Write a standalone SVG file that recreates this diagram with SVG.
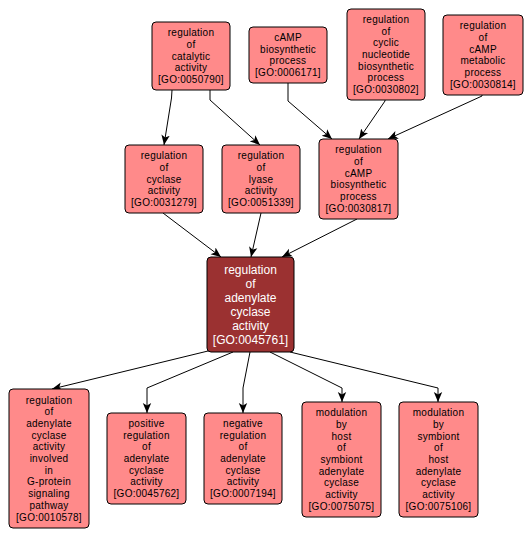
<svg xmlns="http://www.w3.org/2000/svg" width="532" height="539" viewBox="0 0 532 539">
<defs>
<marker id="arr" markerUnits="userSpaceOnUse" markerWidth="10" markerHeight="10" viewBox="0 0 10 10" refX="10" refY="5" orient="auto">
<path d="M0,0.8 L10,5 L0,9.2 L2.5,5 Z" fill="#000"/>
</marker>
<style>
.n rect{fill:#ff8a8a;stroke:#000;stroke-width:1}
.n text{font-family:"Liberation Sans",Arial,sans-serif;font-size:10px;letter-spacing:0.25px;fill:#000;text-anchor:middle}
#H rect{fill:#9b3131}
#H text{fill:#fff;font-size:12px;letter-spacing:0}
#edges path{fill:none;stroke:#000;stroke-width:1;marker-end:url(#arr)}
</style>
</defs>
<rect width="532" height="539" fill="#fff"/>
<g id="edges">
<path d="M172,90 L171.5,98 L164,145"/>
<path d="M210,90 L210,100 L260,145"/>
<path d="M288,83 L288,101 L332,139"/>
<path d="M385,100 L385,101 L359,139"/>
<path d="M482,95 L482,96 L388,139"/>
<path d="M163,213 L221,257"/>
<path d="M261,213 L251,257"/>
<path d="M357,219 L282,257"/>
<path d="M208,351 L52,389"/>
<path d="M233,352 L147,388 L147,413"/>
<path d="M250,352 L243,388 L243,413"/>
<path d="M270,352 L342,388 L342,402"/>
<path d="M290,352 L438,388 L438,402"/>
</g>
<g id="A" class="n"><rect x="152" y="22" width="78" height="68" rx="4"/>
<text y="36.1"><tspan x="191">regulation</tspan><tspan x="191" dy="11.7">of</tspan><tspan x="191" dy="11.7">catalytic</tspan><tspan x="191" dy="11.7">activity</tspan><tspan x="191" dy="11.7">[GO:0050790]</tspan></text></g>
<g id="B" class="n"><rect x="249" y="27" width="78" height="56" rx="4"/>
<text y="40.9"><tspan x="288">cAMP</tspan><tspan x="288" dy="11.7">biosynthetic</tspan><tspan x="288" dy="11.7">process</tspan><tspan x="288" dy="11.7">[GO:0006171]</tspan></text></g>
<g id="C" class="n"><rect x="347" y="9" width="78" height="91" rx="4"/>
<text y="22.9"><tspan x="386">regulation</tspan><tspan x="386" dy="11.7">of</tspan><tspan x="386" dy="11.7">cyclic</tspan><tspan x="386" dy="11.7">nucleotide</tspan><tspan x="386" dy="11.7">biosynthetic</tspan><tspan x="386" dy="11.7">process</tspan><tspan x="386" dy="11.7">[GO:0030802]</tspan></text></g>
<g id="D" class="n"><rect x="443" y="15" width="80" height="80" rx="4"/>
<text y="29.3"><tspan x="483">regulation</tspan><tspan x="483" dy="11.7">of</tspan><tspan x="483" dy="11.7">cAMP</tspan><tspan x="483" dy="11.7">metabolic</tspan><tspan x="483" dy="11.7">process</tspan><tspan x="483" dy="11.7">[GO:0030814]</tspan></text></g>
<g id="E" class="n"><rect x="125" y="145" width="78" height="68" rx="4"/>
<text y="159.1"><tspan x="164">regulation</tspan><tspan x="164" dy="11.7">of</tspan><tspan x="164" dy="11.7">cyclase</tspan><tspan x="164" dy="11.7">activity</tspan><tspan x="164" dy="11.7">[GO:0031279]</tspan></text></g>
<g id="F" class="n"><rect x="222" y="145" width="78" height="68" rx="4"/>
<text y="159.1"><tspan x="261">regulation</tspan><tspan x="261" dy="11.7">of</tspan><tspan x="261" dy="11.7">lyase</tspan><tspan x="261" dy="11.7">activity</tspan><tspan x="261" dy="11.7">[GO:0051339]</tspan></text></g>
<g id="G" class="n"><rect x="319" y="139" width="79" height="80" rx="4"/>
<text y="153.3"><tspan x="358.5">regulation</tspan><tspan x="358.5" dy="11.7">of</tspan><tspan x="358.5" dy="11.7">cAMP</tspan><tspan x="358.5" dy="11.7">biosynthetic</tspan><tspan x="358.5" dy="11.7">process</tspan><tspan x="358.5" dy="11.7">[GO:0030817]</tspan></text></g>
<g id="H" class="n"><rect x="207" y="257" width="87" height="95" rx="4"/>
<text y="273.8"><tspan x="250.5">regulation</tspan><tspan x="250.5" dy="14">of</tspan><tspan x="250.5" dy="14">adenylate</tspan><tspan x="250.5" dy="14">cyclase</tspan><tspan x="250.5" dy="14">activity</tspan><tspan x="250.5" dy="14">[GO:0045761]</tspan></text></g>
<g id="I" class="n"><rect x="9" y="389" width="80" height="139" rx="4"/>
<text y="403.5"><tspan x="49">regulation</tspan><tspan x="49" dy="11.7">of</tspan><tspan x="49" dy="11.7">adenylate</tspan><tspan x="49" dy="11.7">cyclase</tspan><tspan x="49" dy="11.7">activity</tspan><tspan x="49" dy="11.7">involved</tspan><tspan x="49" dy="11.7">in</tspan><tspan x="49" dy="11.7">G-protein</tspan><tspan x="49" dy="11.7">signaling</tspan><tspan x="49" dy="11.7">pathway</tspan><tspan x="49" dy="11.7">[GO:0010578]</tspan></text></g>
<g id="J" class="n"><rect x="107" y="413" width="79" height="91" rx="4"/>
<text y="426.9"><tspan x="146.5">positive</tspan><tspan x="146.5" dy="11.7">regulation</tspan><tspan x="146.5" dy="11.7">of</tspan><tspan x="146.5" dy="11.7">adenylate</tspan><tspan x="146.5" dy="11.7">cyclase</tspan><tspan x="146.5" dy="11.7">activity</tspan><tspan x="146.5" dy="11.7">[GO:0045762]</tspan></text></g>
<g id="K" class="n"><rect x="204" y="413" width="78" height="91" rx="4"/>
<text y="426.9"><tspan x="243">negative</tspan><tspan x="243" dy="11.7">regulation</tspan><tspan x="243" dy="11.7">of</tspan><tspan x="243" dy="11.7">adenylate</tspan><tspan x="243" dy="11.7">cyclase</tspan><tspan x="243" dy="11.7">activity</tspan><tspan x="243" dy="11.7">[GO:0007194]</tspan></text></g>
<g id="L" class="n"><rect x="302" y="402" width="79" height="115" rx="4"/>
<text y="416.2"><tspan x="341.5">modulation</tspan><tspan x="341.5" dy="11.7">by</tspan><tspan x="341.5" dy="11.7">host</tspan><tspan x="341.5" dy="11.7">of</tspan><tspan x="341.5" dy="11.7">symbiont</tspan><tspan x="341.5" dy="11.7">adenylate</tspan><tspan x="341.5" dy="11.7">cyclase</tspan><tspan x="341.5" dy="11.7">activity</tspan><tspan x="341.5" dy="11.7">[GO:0075075]</tspan></text></g>
<g id="M" class="n"><rect x="399" y="402" width="79" height="115" rx="4"/>
<text y="416.2"><tspan x="438.5">modulation</tspan><tspan x="438.5" dy="11.7">by</tspan><tspan x="438.5" dy="11.7">symbiont</tspan><tspan x="438.5" dy="11.7">of</tspan><tspan x="438.5" dy="11.7">host</tspan><tspan x="438.5" dy="11.7">adenylate</tspan><tspan x="438.5" dy="11.7">cyclase</tspan><tspan x="438.5" dy="11.7">activity</tspan><tspan x="438.5" dy="11.7">[GO:0075106]</tspan></text></g>
</svg>
